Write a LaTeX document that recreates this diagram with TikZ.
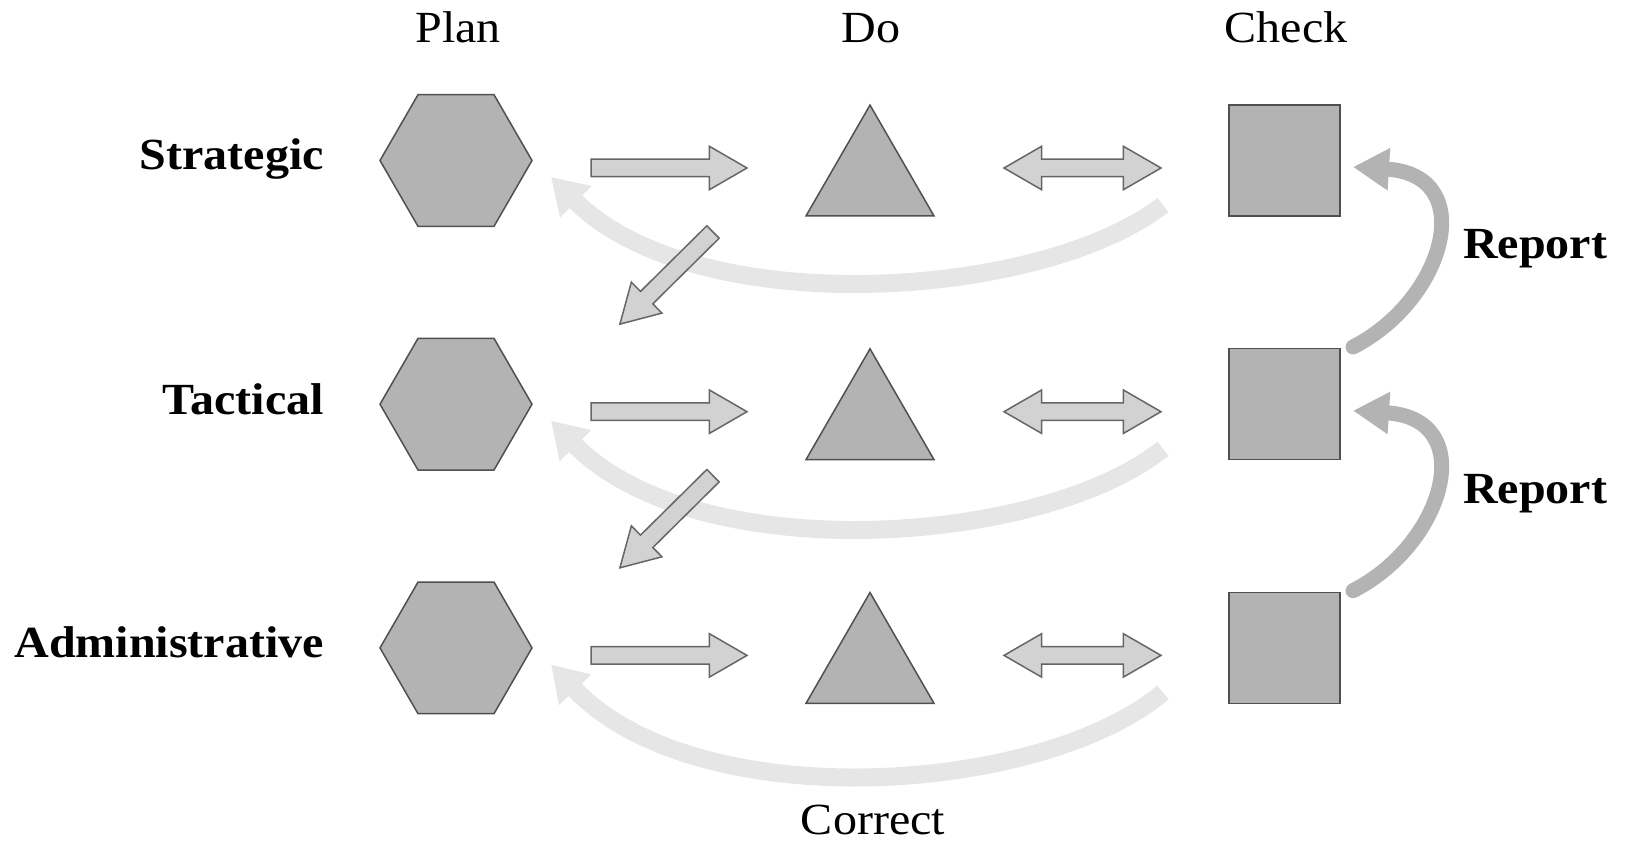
\documentclass[tikz,border=0pt]{standalone}
\usepackage{fontspec}
\setmainfont[FakeStretch=1.08]{Liberation Serif}
\usetikzlibrary{shapes.geometric,shapes.arrows,arrows.meta,calc}

\definecolor{shapefill}{HTML}{B3B3B3}
\definecolor{shapeline}{HTML}{505050}
\definecolor{blockfill}{HTML}{D2D2D2}
\definecolor{blockline}{HTML}{666666}
\definecolor{correctgray}{HTML}{E6E6E6}
\definecolor{reportgray}{HTML}{B3B3B3}

\begin{document}
\begin{tikzpicture}[x=1pt,y=-1pt,
  every node/.style={inner sep=0pt,outer sep=0pt},
  lbl/.style={font=\fontsize{44.5}{50}\selectfont},
  boldlbl/.style={font=\fontsize{44.5}{50}\selectfont\bfseries},
  shapestyle/.style={fill=shapefill,draw=shapeline,line width=1.5pt},
  hexa/.style={shapestyle,regular polygon,regular polygon sides=6,minimum size=152pt},
  tri/.style={shapestyle,regular polygon,regular polygon sides=3,minimum size=147.8pt},
  sqr/.style={shapestyle,rectangle,minimum size=111pt},
  blockstyle/.style={fill=blockfill,draw=blockline,line width=1.5pt,
    inner xsep=0pt,inner ysep=8pt,minimum width=0pt},
  fwd/.style={blockstyle,single arrow,single arrow head extend=13pt,
    single arrow tip angle=60,minimum height=156pt,anchor=tail},
  both/.style={blockstyle,double arrow,double arrow head extend=13pt,
    double arrow tip angle=60,minimum height=157pt},
  correct/.style={draw=correctgray,line width=18pt,
    -{Triangle[length=35pt,width=42pt]}},
  report/.style={draw=reportgray,line width=15pt,line cap=round,
    -{Triangle[length=36pt,width=40pt]}}
]
\useasboundingbox (0,0) rectangle (1626,842);

% column headings
\node[lbl,anchor=base] (plan)  at (458,43)  {Plan};
\node[lbl,anchor=base] (do)    at (871,43)  {Do};
\node[lbl,anchor=base] (check) at (1286,43) {Check};

% row headings
\node[boldlbl,anchor=base east] (strategic) at (324,170)   {Strategic};
\node[boldlbl,anchor=base east] (tactical)  at (324,414)   {Tactical};
\node[boldlbl,anchor=base east] (admin)     at (324,657.5) {Administrative};

% one row of plan / do / check per level (\d deepens the correction loop)
\foreach \r/\n/\d in {0/1/0,1/2/3,2/3/8}{
  \node[hexa] (hex\n) at (456,{160.5+243.7*\r}) {};
  \node[tri]  (tri\n) at (870,{179+243.7*\r}) {};
  \node[sqr]  (sq\n)  at (1284.5,{160.5+243.7*\r}) {};
  \node[fwd]  (go\n)  at ($(hex\n)+(135,7.5)$) {};
  \node[both] (sync\n) at ($(sq\n)+(-202,7.5)$) {};
  % correction loop from check back to plan
  \draw[correct] ($(sq\n)+(-121.5,44.5)$)
    .. controls ($(sq\n)+(-244.5,139.5+\d)$) and ($(hex\n)+(240,161.5+\d)$)
    .. ($(hex\n)+(95,16.5)$);
}

% hand-down from one level to the next
\node[fwd,minimum height=131pt,rotate=224.7] (down1) at ($(hex1)+(257,71.5)$) {};
\node[fwd,minimum height=131pt,rotate=224.7] (down2) at ($(hex2)+(257,71.5)$) {};

% reporting upwards
\draw[report] ($(sq2)+(68.5,-57.2)$)
  .. controls ($(sq2)+(160.5,-104.2)$) and ($(sq1)+(195.5,14.5)$)
  .. ($(sq1)+(68.5,6.5)$);
\draw[report] ($(sq3)+(68.5,-57.2)$)
  .. controls ($(sq3)+(160.5,-104.2)$) and ($(sq2)+(195.5,14.5)$)
  .. ($(sq2)+(68.5,6.5)$);

\node[boldlbl,anchor=base west] (report1) at (1463,259) {Report};
\node[boldlbl,anchor=base west] (report2) at (1463,503) {Report};
\node[lbl,anchor=base] (correctlbl) at (873,834) {Correct};
\end{tikzpicture}
\end{document}
